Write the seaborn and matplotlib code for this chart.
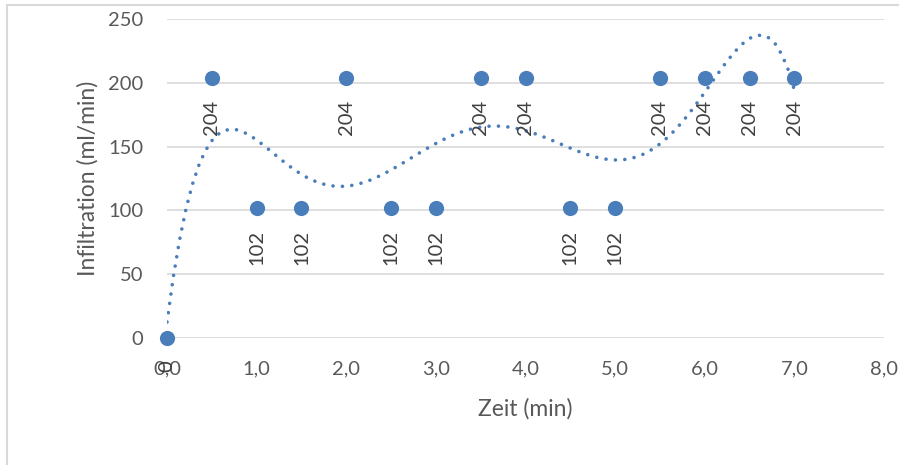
import numpy as np
import pandas as pd
import matplotlib
matplotlib.use("Agg")
import matplotlib.pyplot as plt
from matplotlib.lines import Line2D
import seaborn as sns

# data
zeit = [0.0, 0.5, 1.0, 1.5, 2.0, 2.5, 3.0, 3.5, 4.0, 4.5, 5.0, 5.5, 6.0, 6.5, 7.0]
infiltration = [0, 204, 102, 102, 204, 102, 102, 204, 204, 102, 102, 204, 204, 204, 204]
x_ticks = [0, 1, 2, 3, 4, 5, 6, 7, 8]
y_ticks = [0, 50, 100, 150, 200, 250]

df = pd.DataFrame({"Zeit": zeit, "Infiltration": infiltration})

BLUE = "#4A7EBB"
sns.set_theme(style="white")
plt.rcParams["font.family"] = ["Lato", "DejaVu Sans"]

fig = plt.figure(figsize=(8.99, 4.65), dpi=100)
ax = fig.add_axes([0.1858, 0.2731, 0.7975, 0.686])

# polynomial trendline (order 6), like Excel
sns.regplot(data=df, x="Zeit", y="Infiltration", order=6, ci=None, scatter=False,
            ax=ax, line_kws={"color": BLUE, "linestyle": (0, (0.01, 2.6)),
                             "linewidth": 2.6, "dash_capstyle": "round"})
sns.scatterplot(data=df, x="Zeit", y="Infiltration", ax=ax, color=BLUE, s=120,
                edgecolor=BLUE, linewidth=0, zorder=3, clip_on=False)

for xv, yv in zip(zeit, infiltration):
    ax.annotate(str(yv), (xv, yv), xytext=(0, -16), textcoords="offset points",
                rotation=90, ha="center", va="top", fontsize=14.5, color="#404040")

ax.set_xlim(0, 8)
ax.set_ylim(0, 250)
ax.set_xticks(x_ticks)
ax.set_xticklabels([f"{v:.1f}".replace(".", ",") for v in x_ticks])
ax.set_yticks(y_ticks)
ax.grid(axis="y", color="#D9D9D9", linewidth=1.2)
ax.set_axisbelow(True)
for s in ax.spines.values():
    s.set_visible(False)
ax.tick_params(axis="both", length=0, labelsize=14.5, colors="#595959")
ax.tick_params(axis="x", pad=16)
ax.tick_params(axis="y", pad=17)
ax.set_xlabel("Zeit (min)", fontsize=16.5, color="#595959", labelpad=15)
ax.set_ylabel("Infiltration (ml/min)", fontsize=16.5, color="#595959", labelpad=7)

# outer chart frame (left and top edges visible)
fig.add_artist(Line2D([0.0083, 0.0083], [0.0, 0.989], color="#D9D9D9", linewidth=1.5,
                      transform=fig.transFigure))
fig.add_artist(Line2D([0.0083, 1.0], [0.989, 0.989], color="#D9D9D9", linewidth=1.5,
                      transform=fig.transFigure))

fig.savefig("out.png", dpi=100)
